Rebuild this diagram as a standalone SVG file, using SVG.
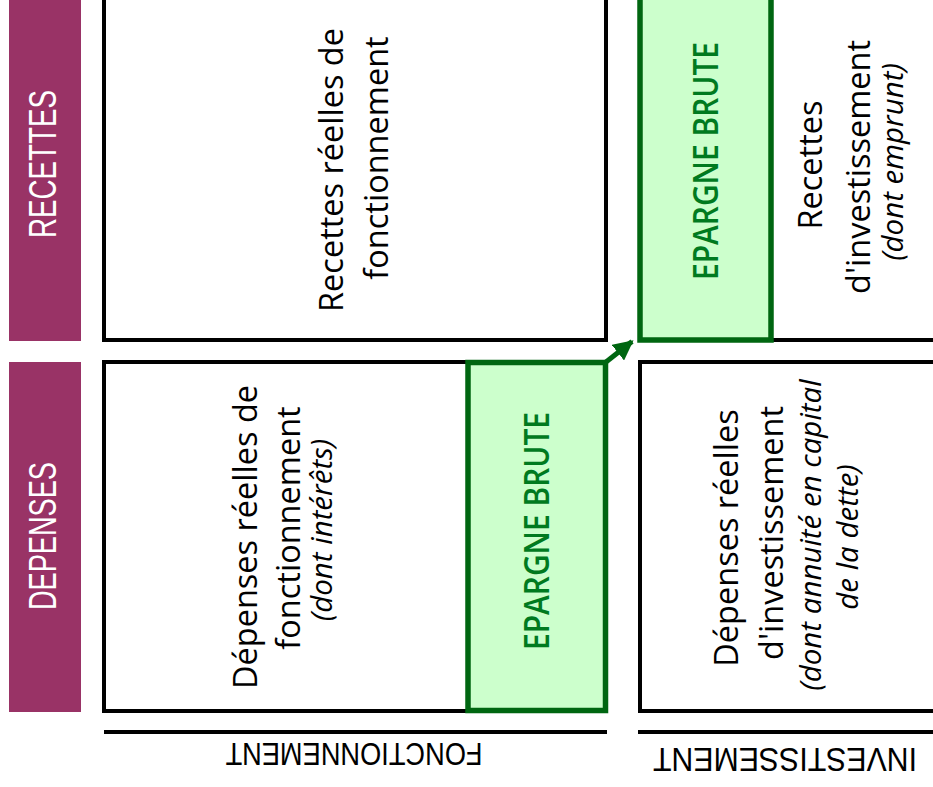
<svg xmlns="http://www.w3.org/2000/svg" width="933" height="787" viewBox="0 0 933 787">
<style>
.bar{fill:#993366}
.box{fill:#ffffff;stroke:#000000;stroke-width:4}
.eb{fill:#ccffcc;stroke:#006611;stroke-width:5.5}
.lbl{font-family:"Liberation Sans",Arial,sans-serif;font-size:38px;fill:#ffffff;text-anchor:middle}
.t{font-family:"Open Sans","Noto Sans",sans-serif;font-size:32.5px;fill:#000000;text-anchor:middle}
.ti{font-family:"Open Sans","Noto Sans",sans-serif;font-size:29.5px;font-style:italic;fill:#000000;text-anchor:middle}
.ebt{font-family:"Open Sans","Noto Sans",sans-serif;font-size:35px;font-weight:600;fill:#007a1f;text-anchor:middle}
.axis{font-family:"Liberation Sans",Arial,sans-serif;font-size:31px;fill:#000000;text-anchor:middle}
.ln{stroke:#000000;stroke-width:4}
</style>
<defs>
<marker id="ah" viewBox="0 0 10 10" refX="9" refY="5" markerWidth="4" markerHeight="4" orient="auto" markerUnits="strokeWidth">
<path d="M0,0 L10,5 L0,10 z" fill="#006611"/>
</marker>
</defs>

<g id="recettes-label">
<rect class="bar" x="9" y="-2" width="72" height="343"/>
<text class="lbl" transform="translate(56,164) rotate(-90)" textLength="148" lengthAdjust="spacingAndGlyphs">RECETTES</text>
</g>
<g id="depenses-label">
<rect class="bar" x="9" y="362" width="72" height="350"/>
<text class="lbl" transform="translate(56,536) rotate(-90)" textLength="148" lengthAdjust="spacingAndGlyphs">DEPENSES</text>
</g>

<g id="recettes-fonctionnement">
<rect class="box" x="104" y="-10" width="502" height="350"/>
<text class="t" transform="translate(343,170) rotate(-90)">Recettes réelles de</text>
<text class="t" transform="translate(388,158) rotate(-90)">fonctionnement</text>
</g>

<g id="depenses-fonctionnement">
<rect class="box" x="104" y="362" width="502" height="349"/>
<text class="t" transform="translate(257,537) rotate(-90)">Dépenses réelles de</text>
<text class="t" transform="translate(300,528) rotate(-90)">fonctionnement</text>
<text class="ti" transform="translate(332,530) rotate(-90)">(dont intérêts)</text>
</g>

<g id="epargne-brute-fonctionnement">
<rect class="eb" x="468" y="362.5" width="137.5" height="348"/>
<text class="ebt" transform="translate(549,531) rotate(-90)" textLength="238" lengthAdjust="spacingAndGlyphs">EPARGNE BRUTE</text>
</g>

<g id="recettes-investissement">
<rect class="box" x="640" y="-10" width="310" height="350"/>
<text class="t" transform="translate(822,165) rotate(-90)">Recettes</text>
<text class="t" transform="translate(870,167) rotate(-90)">d'investissement</text>
<text class="ti" transform="translate(903,162) rotate(-90)">(dont emprunt)</text>
</g>

<g id="epargne-brute-investissement">
<rect class="eb" x="640" y="-10" width="131" height="350"/>
<text class="ebt" transform="translate(718,161) rotate(-90)" textLength="238" lengthAdjust="spacingAndGlyphs">EPARGNE BRUTE</text>
</g>

<g id="depenses-investissement">
<rect class="box" x="640" y="362" width="310" height="349"/>
<text class="t" transform="translate(738,538) rotate(-90)">Dépenses réelles</text>
<text class="t" transform="translate(783,533) rotate(-90)">d'investissement</text>
<text class="ti" transform="translate(821,535) rotate(-90)">(dont annuité en capital</text>
<text class="ti" transform="translate(858,537) rotate(-90)">de la dette)</text>
</g>

<g id="axis-fonctionnement">
<line class="ln" x1="104" y1="732" x2="607" y2="732"/>
<text class="axis" transform="translate(354,743) rotate(180)" textLength="257" lengthAdjust="spacingAndGlyphs">FONCTIONNEMENT</text>
</g>
<g id="axis-investissement">
<line class="ln" x1="638" y1="732" x2="933" y2="732"/>
<text class="axis" transform="translate(785,748) rotate(180)" style="font-size:33px" textLength="264" lengthAdjust="spacingAndGlyphs">INVESTISSEMENT</text>
</g>

<g id="connectors">
<line x1="606" y1="362" x2="632" y2="341.5" stroke="#006611" stroke-width="5" marker-end="url(#ah)"/>
</g>
</svg>
